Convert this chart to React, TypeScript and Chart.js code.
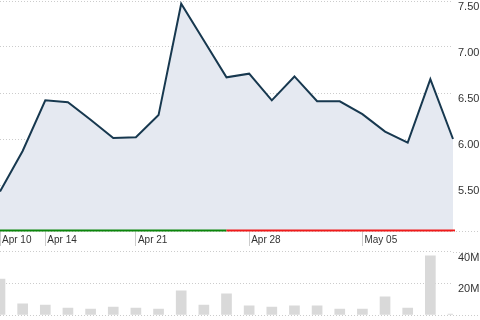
import React, { useEffect, useRef } from "react";
import { Chart, registerables } from "chart.js";

Chart.register(...registerables);

const categories = [
  "Apr 10", "Apr 11", "Apr 14", "Apr 15", "Apr 16", "Apr 17", "Apr 21",
  "Apr 22", "Apr 23", "Apr 24", "Apr 25", "Apr 28", "Apr 29", "Apr 30",
  "May 01", "May 02", "May 05", "May 06", "May 07", "May 08", "May 09",
];
const prices = [
  5.43, 5.87, 6.42, 6.4, 6.21, 6.01, 6.02, 6.26, 7.47, 7.07, 6.67,
  6.71, 6.42, 6.68, 6.41, 6.41, 6.27, 6.08, 5.96, 6.65, 6.0,
];
const volumes = [
  22.7, 7.0, 6.3, 4.4, 3.8, 5.0, 4.4, 3.8, 15.2, 6.3, 13.3,
  5.7, 5.0, 5.7, 5.7, 3.8, 3.8, 11.4, 4.4, 37.3, 0.6,
].map((v) => v * 1e6);
const tickLabels = ["Apr 10", "Apr 14", "Apr 21", "Apr 28", "May 05"];
const priceTicks = { min: 5.0, max: 7.5, step: 0.5 };
const volumeTicks = { min: 0, max: 40e6, step: 20e6 };
const sessionSplitIndex = 10;

const FONT = "'Liberation Sans', Arial, sans-serif";
const GRID = "#cccccc";
const TEXT = "#333333";

const extendLinesPlugin = (values: (c: any) => number[]) => ({
  id: "extendLines",
  afterDraw(chart: any) {
    const y = chart.scales.y;
    const ctx = chart.ctx;
    ctx.save();
    ctx.strokeStyle = GRID;
    ctx.lineWidth = 1;
    ctx.setLineDash([1, 2]);
    for (const v of values(chart)) {
      const py = Math.round(y.getPixelForValue(v)) + 0.5;
      ctx.beginPath();
      ctx.moveTo(chart.chartArea.right, py);
      ctx.lineTo(chart.width, py);
      ctx.stroke();
    }
    ctx.restore();
  },
});

const sessionLinePlugin = {
  id: "sessionLine",
  afterDatasetsDraw(chart: any) {
    const x = chart.scales.x;
    const ctx = chart.ctx;
    const yb = chart.chartArea.bottom - 0.5;
    const x0 = x.getPixelForValue(0);
    const xs = x.getPixelForValue(sessionSplitIndex);
    const x1 = x.getPixelForValue(categories.length - 1) + 2;
    ctx.save();
    ctx.lineWidth = 2;
    ctx.strokeStyle = "#0b850b";
    ctx.beginPath();
    ctx.moveTo(x0, yb);
    ctx.lineTo(xs, yb);
    ctx.stroke();
    ctx.strokeStyle = "#f01a1a";
    ctx.beginPath();
    ctx.moveTo(xs, yb);
    ctx.lineTo(x1, yb);
    ctx.stroke();
    ctx.restore();
  },
};

const fitRight = (s: any) => {
  s.width = 27;
  s.paddingTop = 0;
  s.paddingBottom = 0;
};

export default function App() {
  const priceRef = useRef<HTMLCanvasElement>(null);
  const volRef = useRef<HTMLCanvasElement>(null);

  useEffect(() => {
    Chart.defaults.font.family = FONT;
    Chart.defaults.color = TEXT;

    const price = new Chart(priceRef.current!, {
      type: "line",
      data: {
        labels: categories,
        datasets: [
          {
            data: prices,
            borderColor: "#17384f",
            borderWidth: 2,
            backgroundColor: "#e5e9f1",
            fill: "start",
            pointRadius: 0,
            tension: 0,
          },
        ],
      },
      options: {
        responsive: false,
        animation: false,
        devicePixelRatio: 1,
        layout: { padding: { top: 1, left: 0, right: 0, bottom: 0 } },
        plugins: { legend: { display: false }, tooltip: { enabled: false } },
        scales: {
          x: {
            type: "category",
            offset: false,
            border: { display: false },
            grid: {
              display: true,
              drawOnChartArea: false,
              drawTicks: true,
              tickLength: 15,
              tickWidth: 1,
              tickColor: (c: any) =>
                tickLabels.includes(categories[c.index]) ? GRID : "rgba(0,0,0,0)",
            },
            ticks: {
              autoSkip: false,
              maxRotation: 0,
              minRotation: 0,
              align: "start",
              labelOffset: 2,
              padding: -12,
              color: TEXT,
              font: { size: 10, family: FONT },
              callback: (v: any, i: number) =>
                tickLabels.includes(categories[i]) ? categories[i] : "",
            },
            afterFit: (s: any) => {
              s.height = 19;
              s.paddingLeft = 0;
              s.paddingRight = 0;
            },
          },
          y: {
            position: "right",
            min: priceTicks.min,
            max: priceTicks.max,
            border: { display: false, dash: [1, 2] },
            grid: { color: GRID, drawTicks: false, lineWidth: 1 },
            ticks: {
              stepSize: priceTicks.step,
              padding: 5,
              labelOffset: 6,
              color: TEXT,
              font: { size: 11, family: FONT },
              callback: (v: any) =>
                Number(v) === priceTicks.min ? "" : Number(v).toFixed(2),
            },
            afterFit: fitRight,
          },
        },
      },
      plugins: [sessionLinePlugin, extendLinesPlugin(() => [priceTicks.min])],
    });

    const vol = new Chart(volRef.current!, {
      type: "bar",
      data: {
        labels: categories,
        datasets: [
          {
            data: volumes,
            backgroundColor: "#d9d9d9",
            barThickness: 10,
          },
        ],
      },
      options: {
        responsive: false,
        animation: false,
        devicePixelRatio: 1,
        layout: { padding: { top: 3.5, left: 0, right: 0, bottom: 5 } },
        plugins: { legend: { display: false }, tooltip: { enabled: false } },
        scales: {
          x: {
            type: "category",
            offset: false,
            display: false,
          },
          y: {
            position: "right",
            min: volumeTicks.min,
            max: volumeTicks.max,
            border: { display: false, dash: [1, 2] },
            grid: { color: GRID, drawTicks: false, lineWidth: 1 },
            ticks: {
              stepSize: volumeTicks.step,
              padding: 5,
              labelOffset: 6,
              color: TEXT,
              font: { size: 11, family: FONT },
              callback: (v: any) =>
                Number(v) === 0 ? "" : Math.round(Number(v) / 1e6) + "M",
            },
            afterFit: fitRight,
          },
        },
      },
      plugins: [extendLinesPlugin(() => [volumeTicks.max, volumeTicks.min])],
    });

    return () => {
      price.destroy();
      vol.destroy();
    };
  }, []);

  return (
    <div style={{ position: "absolute", left: 0, top: 0, width: 480, height: 320, background: "#fff" }}>
      <canvas
        ref={priceRef}
        width={480}
        height={250}
        style={{ position: "absolute", left: 0, top: 0, width: 480, height: 250 }}
      />
      <canvas
        ref={volRef}
        width={480}
        height={72}
        style={{ position: "absolute", left: 0, top: 248, width: 480, height: 72 }}
      />
    </div>
  );
}
